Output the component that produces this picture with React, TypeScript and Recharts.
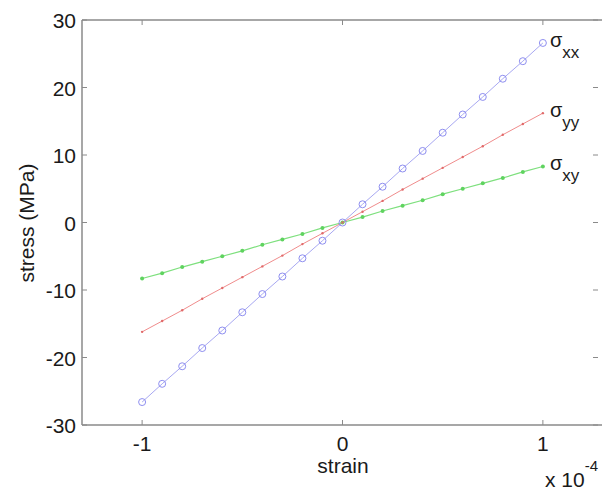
import { LineChart, Line, XAxis, YAxis, ReferenceLine } from 'recharts';

// strain (x 10^-4)
const strain = [-1, -0.9, -0.8, -0.7, -0.6, -0.5, -0.4, -0.3, -0.2, -0.1, 0, 0.1, 0.2, 0.3, 0.4, 0.5, 0.6, 0.7, 0.8, 0.9, 1];

// stress in MPa
const sigmaXX = [-26.6, -23.9, -21.3, -18.6, -16.0, -13.3, -10.6, -8.0, -5.3, -2.7, 0, 2.7, 5.3, 8.0, 10.6, 13.3, 16.0, 18.6, 21.3, 23.9, 26.6];
const sigmaYY = [-16.2, -14.6, -13.0, -11.3, -9.7, -8.1, -6.5, -4.9, -3.2, -1.6, 0, 1.6, 3.2, 4.9, 6.5, 8.1, 9.7, 11.3, 13.0, 14.6, 16.2];
const sigmaXY = [-8.3, -7.5, -6.6, -5.8, -5.0, -4.2, -3.3, -2.5, -1.7, -0.8, 0, 0.8, 1.7, 2.5, 3.3, 4.2, 5.0, 5.8, 6.6, 7.5, 8.3];

const xTicks = [-1, 0, 1];
const yTicks = [-30, -20, -10, 0, 10, 20, 30];

const data = strain.map((s, i) => ({ s, xx: sigmaXX[i], yy: sigmaYY[i], xy: sigmaXY[i] }));

const FONT = 'Liberation Sans, Arial, sans-serif';
const AXIS = '#8a8a8a';
const W = 602;
const H = 491;
const M = { top: 20, right: -1, left: 0, bottom: 0 };
const YW = 82;
const XH = 66;
const PLOT_H = H - M.top - M.bottom - XH;

const YTick = (props: any) => {
  const { x, y, payload } = props;
  return (
    <g>
      <line x1={x} y1={y} x2={x + 5} y2={y} stroke={AXIS} />
      <line x1={593} y1={y} x2={598} y2={y} stroke={AXIS} />
      <text x={x - 6} y={y + 8} textAnchor="end" fontSize={21} fontFamily={FONT} fill="#1a1a1a">
        {payload.value}
      </text>
    </g>
  );
};

const XTick = (props: any) => {
  const { x, y, payload } = props;
  return (
    <g>
      <line x1={x} y1={y} x2={x} y2={y - 5} stroke={AXIS} />
      <line x1={x} y1={y - PLOT_H} x2={x} y2={y - PLOT_H + 5} stroke={AXIS} />
      <text x={x} y={y + 26} textAnchor="middle" fontSize={21} fontFamily={FONT} fill="#1a1a1a">
        {payload.value}
      </text>
    </g>
  );
};

const endLabel = (sub: string) => (props: any) => {
  const { x, y, index } = props;
  if (index !== strain.length - 1) return null;
  return (
    <text x={x + 7} y={y + 4} fontFamily={FONT} fill="#1a1a1a">
      <tspan fontSize={20}>σ</tspan>
      <tspan fontSize={17} dy={11}>{sub}</tspan>
    </text>
  );
};

const Dot = ({ cx, cy, r, fill }: any) => <circle cx={cx} cy={cy} r={r} fill={fill} stroke="none" />;

export default function App() {
  return (
    <div style={{ position: 'absolute', left: 0, top: 0, width: 602, height: 491, overflow: 'hidden', background: '#fff' }}>
      <LineChart width={W} height={H} data={data} margin={M}>
        <XAxis
          dataKey="s"
          type="number"
          domain={[-1.3, 1.3]}
          ticks={xTicks}
          height={XH}
          axisLine={false}
          tickLine={false}
          tick={<XTick />}
          tickSize={0}
          tickMargin={0}
          interval={0}
          label={{
            content: () => (
              <g fontFamily={FONT} fill="#1a1a1a">
                <text x={343} y={473} textAnchor="middle" fontSize={21}>strain</text>
                <text x={545} y={487} fontSize={21}>
                  x 10<tspan fontSize={15} dy={-16}>-4</tspan>
                </text>
              </g>
            ),
          }}
        />
        <YAxis
          type="number"
          domain={[-30, 30]}
          ticks={yTicks}
          width={YW}
          axisLine={false}
          tickLine={false}
          tick={<YTick />}
          tickSize={0}
          tickMargin={0}
          interval={0}
          label={{
            content: () => (
              <text
                x={26}
                y={223}
                transform="rotate(-90 26 223)"
                textAnchor="middle"
                dominantBaseline="central"
                fontSize={21}
                fontFamily={FONT}
                fill="#1a1a1a"
              >
                stress (MPa)
              </text>
            ),
          }}
        />
        <ReferenceLine y={30} stroke={AXIS} strokeWidth={1.5} />
        <ReferenceLine y={-30} stroke={AXIS} strokeWidth={1.5} />
        <ReferenceLine x={-1.3} stroke={AXIS} strokeWidth={1.5} />
        <Line
          dataKey="xy"
          stroke="#7ee07e"
          strokeWidth={1.2}
          isAnimationActive={false}
          dot={<Dot r={2} fill="#5fd35f" />}
          activeDot={false}
          label={endLabel('xy')}
        />
        <Line
          dataKey="yy"
          stroke="#f08c8c"
          strokeWidth={1}
          isAnimationActive={false}
          dot={<Dot r={1.2} fill="#e06a6a" />}
          activeDot={false}
          label={endLabel('yy')}
        />
        <Line
          dataKey="xx"
          stroke="#a8a8f2"
          strokeWidth={1}
          isAnimationActive={false}
          dot={{ r: 3.5, fill: 'none', stroke: '#8e8ef0', strokeWidth: 1 }}
          activeDot={false}
          label={endLabel('xx')}
        />
      </LineChart>
    </div>
  );
}
